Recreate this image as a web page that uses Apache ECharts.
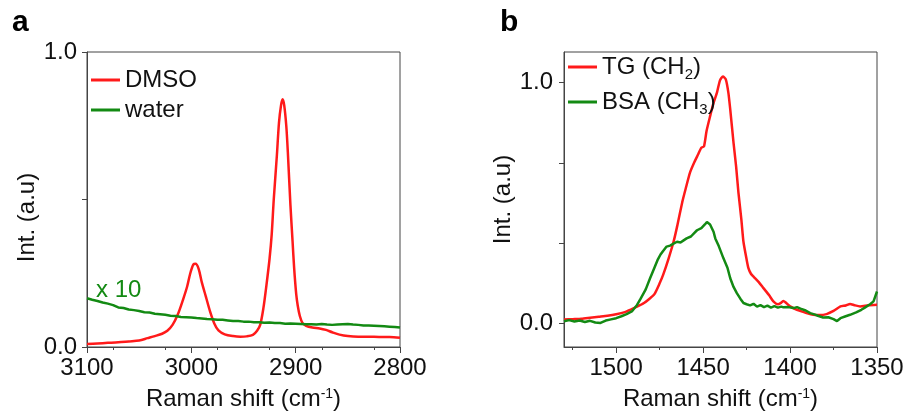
<!DOCTYPE html>
<html>
<head>
<meta charset="utf-8">
<script src="https://cdn.jsdelivr.net/npm/echarts@6/dist/echarts.min.js"></script>
<style>html,body{margin:0;padding:0;background:#fff}#c{width:910px;height:416px}</style>
</head>
<body>
<div id="c"></div>
<script>
// Panel a: DMSO and water (x10) Raman spectra
const dmsoShift = [3100,3090,3080,3070,3060,3050,3042,3035,3028,3023,3018,3013,3008,3004,3001,2998,2996,2993,2990,2986,2982,2978,2974,2968,2960,2953,2947,2941,2937,2934,2931,2928,2925,2923,2921,2918,2916,2914,2912.5,2911,2909,2907.5,2905,2903,2901.5,2899.5,2898,2896,2893.5,2890,2884,2877,2871,2865,2858,2850,2840,2830,2820,2810,2800];
const dmsoInt   = [0.010,0.012,0.014,0.016,0.019,0.022,0.030,0.037,0.045,0.055,0.075,0.110,0.160,0.205,0.250,0.280,0.282,0.265,0.220,0.170,0.120,0.080,0.056,0.043,0.037,0.035,0.036,0.041,0.055,0.075,0.130,0.210,0.300,0.380,0.500,0.650,0.760,0.820,0.840,0.820,0.750,0.660,0.480,0.360,0.270,0.180,0.140,0.105,0.082,0.072,0.066,0.063,0.058,0.050,0.042,0.037,0.035,0.035,0.034,0.034,0.031];
const waterShift = [3100,3095,3090,3085,3080,3075,3070,3065,3060,3055,3050,3045,3040,3035,3030,3025,3020,3015,3010,3005,3000,2995,2990,2985,2980,2975,2970,2965,2960,2955,2950,2945,2940,2935,2930,2925,2920,2915,2910,2905,2900,2895,2890,2885,2880,2875,2870,2865,2860,2855,2850,2845,2840,2835,2830,2825,2820,2815,2810,2805,2800];
const waterInt   = [0.165,0.160,0.156,0.151,0.147,0.142,0.134,0.132,0.127,0.125,0.122,0.118,0.117,0.113,0.111,0.109,0.106,0.105,0.102,0.101,0.100,0.098,0.097,0.095,0.094,0.092,0.092,0.090,0.088,0.088,0.086,0.086,0.084,0.084,0.082,0.083,0.081,0.081,0.079,0.080,0.079,0.078,0.077,0.077,0.076,0.078,0.076,0.075,0.076,0.077,0.078,0.076,0.075,0.073,0.073,0.072,0.071,0.070,0.069,0.068,0.066];

// Panel b: TG (CH2) and BSA (CH3)
const tgShift = [1530,1525,1520,1515,1510,1505,1500,1495,1492,1488,1484,1481,1478,1475,1473,1470,1467,1465,1462,1460,1457.5,1455,1453,1451,1449.5,1448,1446,1444,1442,1440.3,1438.6,1437,1435.5,1434.4,1432.5,1431,1429.7,1428,1426.8,1425,1423.9,1422.5,1421,1418,1415.3,1412,1409.6,1407,1405,1403.8,1402.5,1400,1397,1394,1390,1386.7,1383,1379,1375,1371,1368,1365.5,1363,1359.7,1355,1350];
const tgInt   = [0.014,0.016,0.018,0.022,0.026,0.030,0.036,0.045,0.055,0.068,0.083,0.100,0.120,0.165,0.200,0.265,0.338,0.400,0.503,0.560,0.627,0.670,0.700,0.730,0.735,0.800,0.860,0.916,0.960,1.010,1.026,1.015,0.960,0.889,0.750,0.650,0.544,0.430,0.338,0.265,0.227,0.205,0.193,0.170,0.145,0.115,0.090,0.078,0.085,0.092,0.085,0.069,0.058,0.050,0.040,0.034,0.033,0.037,0.050,0.069,0.073,0.079,0.074,0.069,0.074,0.076];
const bsaShift = [1530,1527,1524,1521,1518,1515,1512,1509,1506,1503,1500,1497,1494,1491,1488,1486,1483,1480.5,1478,1476,1474.5,1473,1471,1469,1467,1465,1463,1461,1459.5,1457,1455,1453.5,1451,1449,1447.8,1446,1444,1443,1441,1438.3,1436,1434.4,1432.5,1430.6,1428.5,1426.8,1425,1423,1421,1419,1417,1415,1413,1411,1409,1407,1405,1403.8,1401,1398,1396,1394,1391,1388.4,1386,1384,1381,1378,1375,1373,1371,1368,1365.5,1362,1359,1357,1354,1352,1350];
const bsaInt   = [0.007,0.012,0.006,0.010,0.004,0.009,0.002,0.000,0.010,0.015,0.020,0.028,0.037,0.048,0.075,0.100,0.140,0.186,0.230,0.265,0.285,0.300,0.318,0.322,0.330,0.338,0.335,0.345,0.352,0.360,0.375,0.386,0.395,0.410,0.420,0.410,0.380,0.352,0.320,0.269,0.230,0.186,0.150,0.124,0.100,0.083,0.078,0.073,0.080,0.068,0.074,0.066,0.072,0.064,0.070,0.064,0.068,0.065,0.066,0.062,0.066,0.060,0.052,0.041,0.036,0.030,0.023,0.024,0.016,0.008,0.020,0.028,0.034,0.044,0.055,0.064,0.078,0.090,0.131];

// Axis ticks / labels
const aXTicks = [3100, 3000, 2900, 2800];
const aYTicks = [0, 0.5, 1.0];
const aYLabels = [0, 1.0];
const bXTicks = [1500, 1450, 1400, 1350];
const bXMinorTicks = [1525, 1475, 1425, 1375];
const bYTicks = [0, 1/3, 2/3, 1.0];
const bYLabels = [0, 1.0];

const zip = (xs, ys) => xs.map((x, i) => [x, ys[i]]);

const FONT = 'Liberation Sans, Arial, sans-serif';
const AX = '#444';
const RED = '#ff1a1a';
const GREEN = '#138a13';

const xNameRich = {
  n: { fontSize: 24, fontFamily: FONT, color: '#111' },
  sup: { fontSize: 14, fontFamily: FONT, color: '#111', verticalAlign: 'top', padding: [0, 0, 10, 0] }
};

function xAxisCommon(grid, min, max, ticks) {
  return {
    gridIndex: grid, type: 'value', min: min, max: max, inverse: true, position: 'bottom',
    name: '{n|Raman shift (cm}{sup|-1}{n|)}', nameLocation: 'middle', nameGap: 40,
    nameTextStyle: { rich: xNameRich },
    axisLine: { show: true, onZero: false, lineStyle: { color: AX, width: 1 } },
    axisTick: { show: true, length: 6, customValues: ticks, lineStyle: { color: AX } },
    axisLabel: { customValues: ticks, margin: 9, fontSize: 24, fontFamily: FONT, color: '#111', formatter: v => String(v) },
    splitLine: { show: false }
  };
}

const chart = echarts.init(document.getElementById('c'), null, { renderer: 'canvas' });
chart.setOption({
  animation: false,
  backgroundColor: '#fff',
  grid: [
    { left: 87, top: 52, width: 313, height: 297, show: true, borderColor: AX, borderWidth: 1, backgroundColor: 'transparent' },
    { left: 564, top: 52, width: 313, height: 297, show: true, borderColor: AX, borderWidth: 1, backgroundColor: 'transparent' }
  ],
  xAxis: [
    Object.assign(xAxisCommon(0, 2800, 3100, aXTicks), {
      minorTick: { show: true, splitNumber: 2, length: 3, lineStyle: { color: AX } }
    }),
    xAxisCommon(1, 1350, 1530, bXTicks),
    {
      gridIndex: 1, type: 'value', min: 1350, max: 1530, inverse: true, position: 'bottom',
      axisLine: { show: false, onZero: false },
      axisTick: { show: true, length: 3, customValues: bXMinorTicks, lineStyle: { color: AX } },
      axisLabel: { show: false }, splitLine: { show: false }
    }
  ],
  yAxis: [
    {
      gridIndex: 0, type: 'value', min: 0, max: 1,
      name: 'Int. (a.u)', nameLocation: 'middle', nameGap: 27,
      nameTextStyle: { fontSize: 24, fontFamily: FONT, color: '#111', padding: [0, 36, 0, 0] },
      axisLine: { show: true, onZero: false, lineStyle: { color: AX } },
      axisTick: { show: true, length: 5, customValues: aYTicks, lineStyle: { color: AX } },
      axisLabel: { customValues: aYLabels, margin: 10, fontSize: 24, fontFamily: FONT, color: '#111', formatter: v => v.toFixed(1) },
      splitLine: { show: false }
    },
    {
      gridIndex: 1, type: 'value', min: -0.1, max: 1.128,
      name: 'Int. (a.u)', nameLocation: 'middle', nameGap: 18,
      nameTextStyle: { fontSize: 24, fontFamily: FONT, color: '#111' },
      axisLine: { show: true, onZero: false, lineStyle: { color: AX } },
      axisTick: { show: true, length: 5, customValues: bYTicks, lineStyle: { color: AX } },
      axisLabel: { customValues: bYLabels, margin: 11, fontSize: 24, fontFamily: FONT, color: '#111', formatter: v => v.toFixed(1) },
      splitLine: { show: false }
    }
  ],
  legend: [
    {
      left: 91, top: 68, orient: 'vertical', padding: 0, itemGap: 6,
      itemWidth: 29, itemHeight: 3, icon: 'rect',
      data: ['DMSO', 'water'],
      textStyle: { fontSize: 24, fontFamily: FONT, color: '#111' }
    },
    {
      left: 568, top: 55, orient: 'vertical', padding: 0, itemGap: 8,
      itemWidth: 29, itemHeight: 3, icon: 'rect',
      data: ['TG', 'BSA'],
      formatter: name => name === 'TG' ? '{n|TG (CH}{s|2}{n|)}' : '{n|BSA (CH}{s|3}{n|)}',
      textStyle: {
        fontSize: 24, fontFamily: FONT, color: '#111',
        rich: {
          n: { fontSize: 24, fontFamily: FONT, color: '#111', lineHeight: 30 },
          s: { fontSize: 15, fontFamily: FONT, color: '#111', verticalAlign: 'bottom', lineHeight: 15 }
        }
      }
    }
  ],
  series: [
    { name: 'DMSO', type: 'line', xAxisIndex: 0, yAxisIndex: 0, data: zip(dmsoShift, dmsoInt), showSymbol: false, smooth: 0.3, lineStyle: { color: RED, width: 2.5 }, itemStyle: { color: RED } },
    { name: 'water', type: 'line', xAxisIndex: 0, yAxisIndex: 0, data: zip(waterShift, waterInt), showSymbol: false, lineStyle: { color: GREEN, width: 2.5 }, itemStyle: { color: GREEN } },
    { name: 'TG', type: 'line', xAxisIndex: 1, yAxisIndex: 1, data: zip(tgShift, tgInt), showSymbol: false, smooth: 0.2, lineStyle: { color: RED, width: 2.5 }, itemStyle: { color: RED } },
    { name: 'BSA', type: 'line', xAxisIndex: 1, yAxisIndex: 1, data: zip(bsaShift, bsaInt), showSymbol: false, lineStyle: { color: GREEN, width: 2.5 }, itemStyle: { color: GREEN } }
  ],
  graphic: [
    { type: 'text', left: 12, top: 8, style: { text: 'a', fontSize: 30, fontWeight: 'bold', fontFamily: FONT, fill: '#000' } },
    { type: 'text', left: 500, top: 8, style: { text: 'b', fontSize: 30, fontWeight: 'bold', fontFamily: FONT, fill: '#000' } },
    { type: 'text', left: 96, top: 278, style: { text: 'x 10', fontSize: 24, fontFamily: FONT, fill: GREEN } }
  ]
});
</script>
</body>
</html>
